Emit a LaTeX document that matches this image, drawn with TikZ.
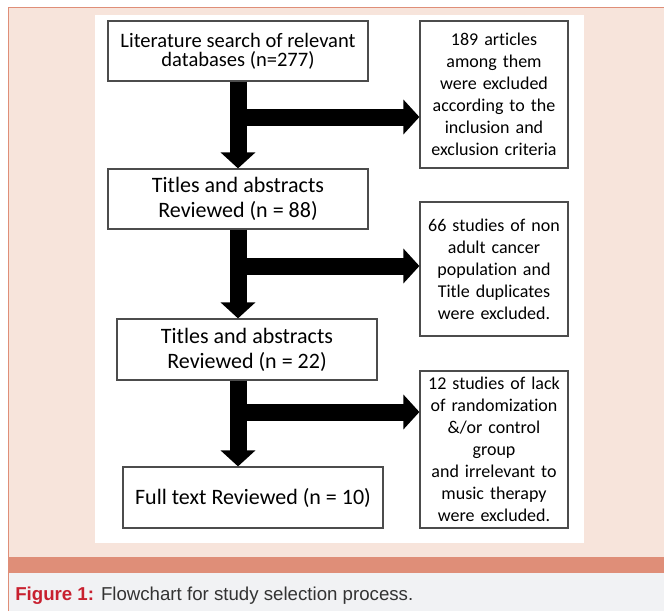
\documentclass[tikz,border=0pt]{standalone}
\usepackage{fontspec}
\setmainfont{Carlito}[Ligatures=NoCommon]
\newfontfamily\capfont{Liberation Sans}
\usetikzlibrary{arrows.meta}
\definecolor{panelpink}{HTML}{F7E4DB}
\definecolor{salmon}{HTML}{DF8E78}
\definecolor{capgray}{HTML}{F1F2F4}
\definecolor{capred}{HTML}{C8202F}
\definecolor{captext}{HTML}{333333}
\tikzset{
  mainbox/.style={draw=black!70, line width=0.9pt, fill=white, inner sep=0pt,
    minimum width=195pt, minimum height=45pt, align=center},
  sidebox/.style={draw=black!70, line width=0.9pt, fill=white, inner sep=0pt,
    minimum width=111pt, text width=108pt, align=center,
    font=\fontsize{13.5pt}{16.5pt}\selectfont},
  flow/.style={line width=12.75pt, -{Triangle[width=25.5pt, length=12pt]}}
}
\begin{document}
\begin{tikzpicture}[x=0.75pt, y=-0.75pt]
  \useasboundingbox (0,0) rectangle (664,611);
  % frame and caption
  \fill[white] (0,0) rectangle (664,611);
  \fill[panelpink] (8,7) rectangle (664,557);
  \fill[salmon] (8,557) rectangle (664,573);
  \fill[capgray] (8,573) rectangle (664,611);
  \draw[salmon, line width=0.75pt] (8,611) -- (8,7) -- (664,7);
  \fill[white] (95,15) rectangle (584,543);
  \node[anchor=base west, inner sep=0pt, text=captext,
    font=\capfont\fontsize{14pt}{16pt}\selectfont] (caption) at (15,600)
    {\textcolor{capred}{\bfseries Figure 1:} Flowchart for study selection process.};
  % boxes
  \node[mainbox, font=\fontsize{15.4pt}{14.5pt}\selectfont] (search) at (238,51)
    {Literature search of relevant\\databases (n=277)};
  \node[mainbox, font=\fontsize{16.5pt}{18.75pt}\selectfont] (titles1) at (238,199)
    {Titles and abstracts\\Reviewed (n = 88)};
  \node[mainbox, font=\fontsize{16.5pt}{18.75pt}\selectfont, minimum height=45.75pt] (titles2) at (247,349.5)
    {Titles and abstracts\\Reviewed (n = 22)};
  \node[mainbox, font=\fontsize{16.5pt}{18.75pt}\selectfont, minimum height=45.75pt] (fulltext) at (253,497.5)
    {Full text Reviewed (n = 10)};
  \node[sidebox, minimum height=110.25pt] (excl1) at (494,94.5)
    {189 articles\\among them\\were excluded\\according to the\\inclusion and\\exclusion criteria};
  \node[sidebox, minimum height=100.5pt] (excl2) at (494,269)
    {66 studies of non\\adult cancer\\population and\\Title duplicates\\were excluded.};
  \node[sidebox, minimum height=117.75pt] (excl3) at (494,449.5)
    {12 studies of lack\\of randomization\\\&/or control\\group\\and irrelevant to\\music therapy\\were excluded.};
  % branch points
  \coordinate (b1) at (238,117);
  \coordinate (b2) at (238,266);
  \coordinate (b3) at (238,412);
  % arrows
  \draw[flow] (b1) -- (b1 -| excl1.west);
  \draw[flow] (b2) -- (b2 -| excl2.west);
  \draw[flow] (b3) -- (b3 -| excl3.west);
  \draw[flow] (search.south) -- (titles1.north);
  \draw[flow] (titles1.south) -- (titles1.south |- titles2.north);
  \draw[flow] (titles2.south -| search.south) -- (fulltext.north -| search.south);
\end{tikzpicture}
\end{document}
